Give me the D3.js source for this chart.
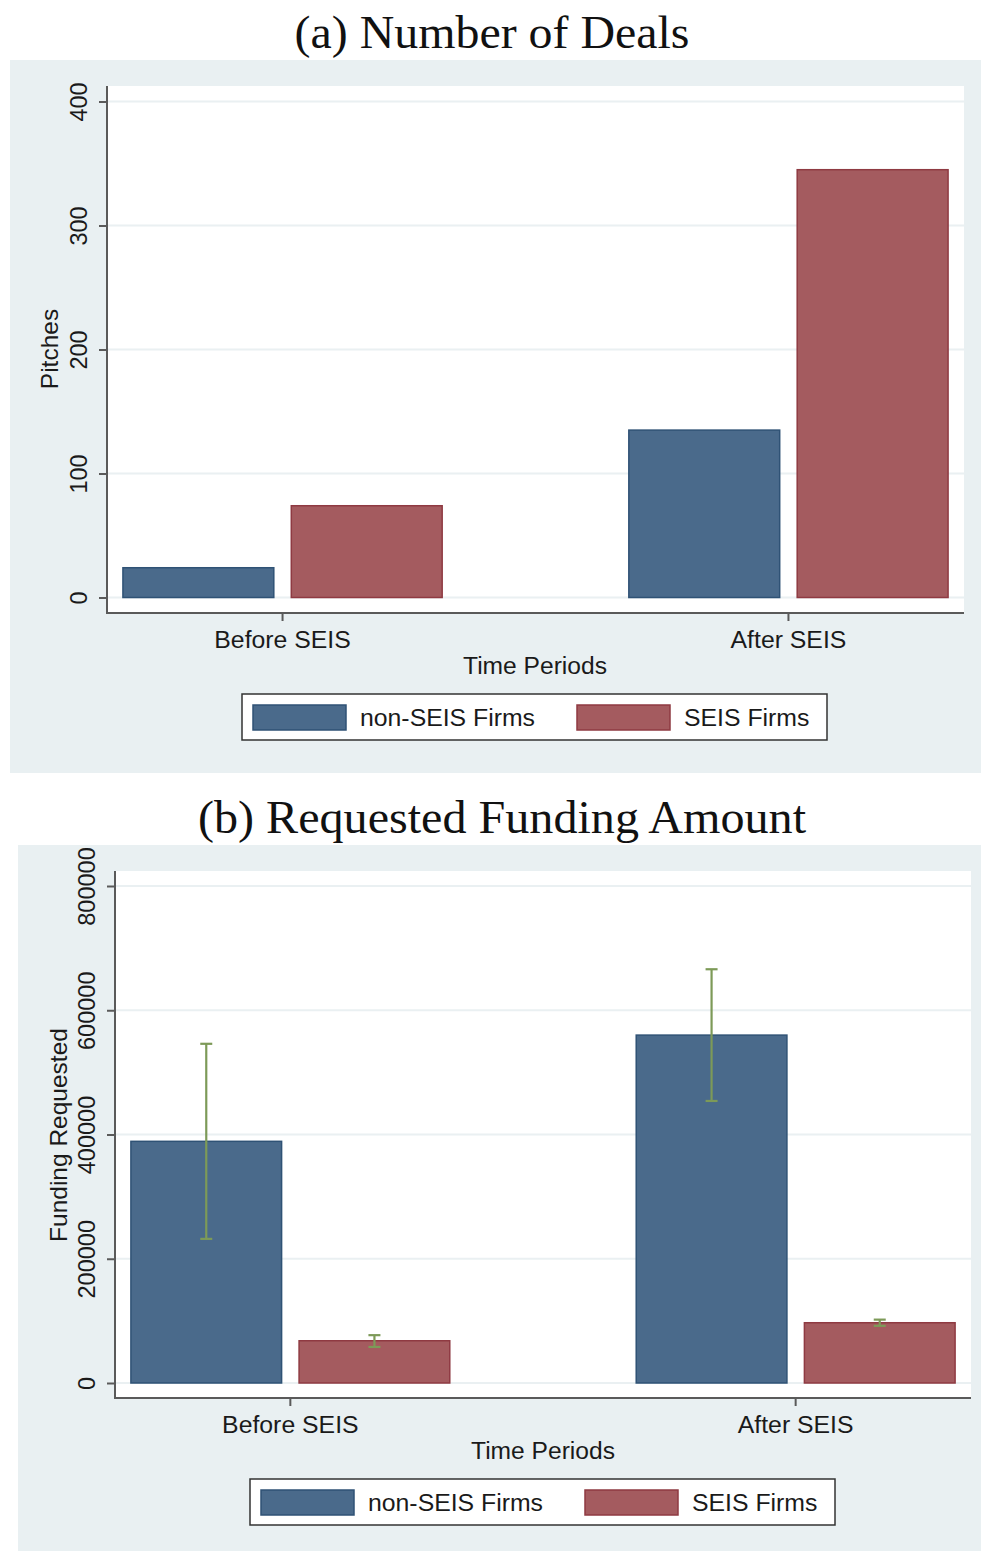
<!DOCTYPE html>
<html>
<head>
<meta charset="utf-8">
<script src="https://cdn.jsdelivr.net/npm/d3@7"></script>
<style>
  html, body { margin: 0; padding: 0; background: #ffffff; }
  svg { display: block; }
</style>
</head>
<body>
<div id="chart"></div>
<script>
// Periods on the x axis and the two firm groups
const periods = ["Before SEIS", "After SEIS"];
const firmGroups = ["non-SEIS Firms", "SEIS Firms"];

// (a) Number of deals (pitches)
const pitchesNonSEIS = [24, 135];
const pitchesSEIS = [74, 345];
const pitchTicks = [0, 100, 200, 300, 400];

// (b) Mean requested funding with confidence intervals
const fundingNonSEIS = [389000, 560000];
const fundingSEIS = [68000, 97000];
const fundingNonSEISLow = [232000, 454000];
const fundingNonSEISHigh = [546000, 666000];
const fundingSEISLow = [58000, 92000];
const fundingSEISHigh = [77000, 102000];
const fundingTicks = [0, 200000, 400000, 600000, 800000];

const W = 981, H = 1551;
const BLUE = "#4a6a8b", BLUE_EDGE = "#2f5275";
const RED = "#a45b5f", RED_EDGE = "#8f3a42";
const PANEL = "#e9f0f2", GRID = "#eaf0f2";
const AXIS = "#5a5a5a", CI = "#7d9a58";
const INK = "#1a1a1a";
const SANS = "'Liberation Sans', Arial, sans-serif";
const SERIF = "'Liberation Serif', 'Times New Roman', serif";

const svg = d3.select("#chart").append("svg")
  .attr("width", W).attr("height", H);

svg.append("rect").attr("width", W).attr("height", H).attr("fill", "#ffffff");

function drawPanel(p) {
  const g = svg.append("g");

  // outer graph region and title
  g.append("rect")
    .attr("x", p.panel[0]).attr("y", p.panel[1])
    .attr("width", p.panel[2]).attr("height", p.panel[3])
    .attr("fill", PANEL);

  g.append("text")
    .attr("x", p.titleX).attr("y", p.titleY)
    .attr("text-anchor", "middle")
    .attr("font-family", SERIF).attr("font-size", 46)
    .attr("textLength", p.titleW).attr("lengthAdjust", "spacingAndGlyphs")
    .attr("fill", "#111")
    .text(p.title);

  // white plot region
  g.append("rect")
    .attr("x", p.plotL).attr("y", p.plotT)
    .attr("width", p.plotR - p.plotL).attr("height", p.axisY - p.plotT)
    .attr("fill", "#ffffff");

  const y = d3.scaleLinear().domain(p.domain).range([p.y0, p.yTop]);

  const x0 = d3.scaleBand().domain(periods)
    .range([p.plotL, p.plotR]).paddingInner(0.366).paddingOuter(0.03);
  const x1 = d3.scaleBand().domain(firmGroups)
    .range([0, x0.bandwidth()]).paddingInner(0.095).paddingOuter(0);

  // grid lines
  g.append("g").selectAll("line").data(p.ticks).join("line")
    .attr("x1", p.plotL + 1).attr("x2", p.plotR)
    .attr("y1", d => y(d)).attr("y2", d => y(d))
    .attr("stroke", GRID).attr("stroke-width", 2);

  // bars
  const rows = periods.map((per, i) => ({
    period: per,
    values: [
      { group: firmGroups[0], v: p.nonSEIS[i], lo: p.nonLo ? p.nonLo[i] : null, hi: p.nonHi ? p.nonHi[i] : null },
      { group: firmGroups[1], v: p.seis[i], lo: p.seisLo ? p.seisLo[i] : null, hi: p.seisHi ? p.seisHi[i] : null }
    ]
  }));

  const grp = g.append("g").selectAll("g").data(rows).join("g")
    .attr("transform", d => `translate(${x0(d.period)},0)`);

  grp.selectAll("rect").data(d => d.values).join("rect")
    .attr("x", d => x1(d.group) + 0.75)
    .attr("width", x1.bandwidth() - 1.5)
    .attr("y", d => y(d.v))
    .attr("height", d => y(0) - y(d.v))
    .attr("fill", d => d.group === firmGroups[0] ? BLUE : RED)
    .attr("stroke", d => d.group === firmGroups[0] ? BLUE_EDGE : RED_EDGE)
    .attr("stroke-width", 1.5);

  // confidence interval whiskers
  if (p.nonLo) {
    const ci = grp.selectAll("g.ci").data(d => d.values).join("g").attr("class", "ci");
    const cx = d => x1(d.group) + x1.bandwidth() / 2;
    ci.append("line")
      .attr("x1", cx).attr("x2", cx)
      .attr("y1", d => y(d.hi)).attr("y2", d => y(d.lo))
      .attr("stroke", CI).attr("stroke-width", 2.2);
    ci.selectAll("line.cap").data(d => [{ d, v: d.hi }, { d, v: d.lo }]).join("line")
      .attr("class", "cap")
      .attr("x1", e => cx(e.d) - 6).attr("x2", e => cx(e.d) + 6)
      .attr("y1", e => y(e.v)).attr("y2", e => y(e.v))
      .attr("stroke", CI).attr("stroke-width", 2.2);
  }

  // y axis
  const yAxis = d3.axisLeft(y).tickValues(p.ticks).tickSize(8).tickPadding(6)
    .tickFormat(d3.format("d"));
  const ya = g.append("g").attr("transform", `translate(${p.plotL},0)`).call(yAxis);
  ya.select(".domain").remove();
  ya.append("line")
    .attr("x1", 0).attr("x2", 0).attr("y1", p.plotT).attr("y2", p.axisY)
    .attr("stroke", AXIS).attr("stroke-width", 2);
  ya.selectAll(".tick line").attr("stroke", AXIS).attr("stroke-width", 2);
  ya.selectAll(".tick text")
    .attr("font-family", SANS).attr("font-size", 23.5).attr("fill", INK)
    .attr("transform", "rotate(-90)")
    .attr("x", 0).attr("y", -p.tickLabelOff)
    .attr("dy", 0)
    .attr("text-anchor", "middle");

  g.append("text")
    .attr("transform", `translate(${p.yTitleX},${p.yTitleY}) rotate(-90)`)
    .attr("text-anchor", "middle")
    .attr("font-family", SANS).attr("font-size", 24.5).attr("fill", INK)
    .text(p.yTitle);

  // x axis
  const xa = g.append("g").attr("transform", `translate(0,${p.axisY})`);
  xa.append("line")
    .attr("x1", p.plotL - 1).attr("x2", p.plotR)
    .attr("stroke", AXIS).attr("stroke-width", 2);
  const xt = xa.selectAll("g.tick").data(periods).join("g")
    .attr("transform", d => `translate(${x0(d) + x0.bandwidth() / 2},0)`);
  xt.append("line").attr("y2", 8).attr("stroke", AXIS).attr("stroke-width", 2);
  xt.append("text")
    .attr("y", 35).attr("text-anchor", "middle")
    .attr("font-family", SANS).attr("font-size", 24.8).attr("fill", INK)
    .text(d => d);

  g.append("text")
    .attr("x", p.xTitleX).attr("y", p.axisY + 61)
    .attr("text-anchor", "middle")
    .attr("font-family", SANS).attr("font-size", 24.6).attr("fill", INK)
    .text("Time Periods");

  // legend
  const L = p.legend;
  g.append("rect")
    .attr("x", L[0]).attr("y", L[1]).attr("width", L[2]).attr("height", 46)
    .attr("fill", "#ffffff").attr("stroke", "#333").attr("stroke-width", 1.5);
  const items = [
    { name: firmGroups[0], fill: BLUE, edge: BLUE_EDGE, dx: 11 },
    { name: firmGroups[1], fill: RED, edge: RED_EDGE, dx: 335 }
  ];
  const li = g.append("g").selectAll("g").data(items).join("g")
    .attr("transform", d => `translate(${L[0] + d.dx},${L[1] + 11})`);
  li.append("rect")
    .attr("width", 93).attr("height", 25)
    .attr("fill", d => d.fill).attr("stroke", d => d.edge).attr("stroke-width", 1.5);
  li.append("text")
    .attr("x", 107).attr("y", 21)
    .attr("font-family", SANS).attr("font-size", 24.8).attr("fill", INK)
    .text(d => d.name);
}

drawPanel({
  panel: [10, 60, 971, 713],
  title: "(a) Number of Deals", titleX: 492, titleY: 48, titleW: 395,
  plotL: 107, plotR: 964, plotT: 86, axisY: 613,
  domain: [0, 400], y0: 597.5, yTop: 101.5, ticks: pitchTicks,
  nonSEIS: pitchesNonSEIS, seis: pitchesSEIS,
  yTitle: "Pitches", yTitleX: 58, yTitleY: 349,
  tickLabelOff: 20,
  xTitleX: 535,
  legend: [242, 694, 585]
});

drawPanel({
  panel: [18, 845, 963, 706],
  title: "(b) Requested Funding Amount", titleX: 502, titleY: 833, titleW: 608,
  plotL: 115, plotR: 971, plotT: 871, axisY: 1398,
  domain: [0, 800000], y0: 1383, yTop: 886, ticks: fundingTicks,
  nonSEIS: fundingNonSEIS, seis: fundingSEIS,
  nonLo: fundingNonSEISLow, nonHi: fundingNonSEISHigh,
  seisLo: fundingSEISLow, seisHi: fundingSEISHigh,
  yTitle: "Funding Requested", yTitleX: 67, yTitleY: 1135,
  tickLabelOff: 20,
  xTitleX: 543,
  legend: [250, 1479, 585]
});
</script>
</body>
</html>
